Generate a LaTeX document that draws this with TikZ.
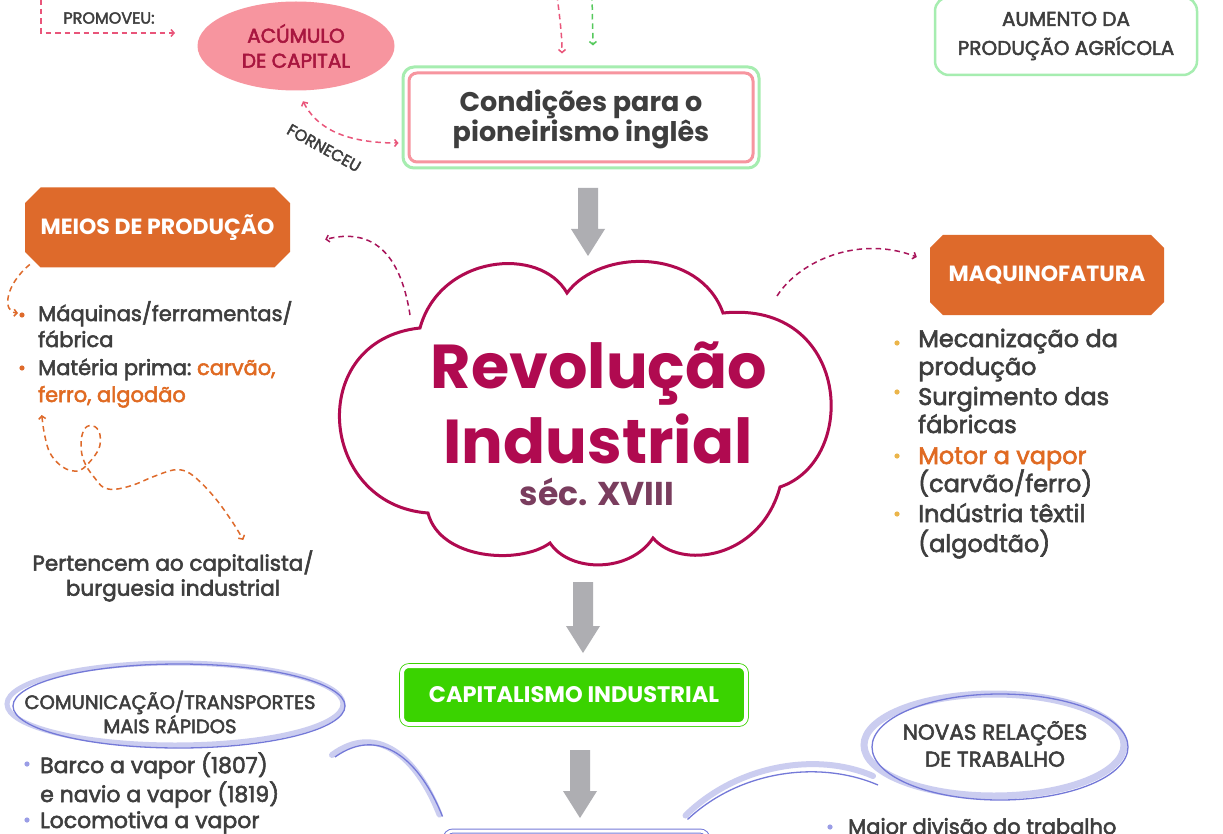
\documentclass[tikz,border=0pt]{standalone}
\usepackage{fontspec}
\setmainfont{Poppins}[UprightFeatures={FakeBold=2.5}]
\usetikzlibrary{arrows.meta,shapes.misc,shapes.geometric,fit,calc}
\definecolor{txt}{HTML}{3E3E3E}
\definecolor{mag}{HTML}{B00A50}
\definecolor{secc}{HTML}{7A3D5E}
\definecolor{orng}{HTML}{DE6A2B}
\definecolor{orngtxt}{HTML}{E06A22}
\definecolor{ylw}{HTML}{EBB54A}
\definecolor{pinkfill}{HTML}{F7959F}
\definecolor{pinktxt}{HTML}{A8163F}
\definecolor{pinkd}{HTML}{E9557A}
\definecolor{lgreen}{HTML}{A6EDB0}
\definecolor{dgreen}{HTML}{55C95C}
\definecolor{capg}{HTML}{3AD300}
\definecolor{blu}{HTML}{7479D8}
\definecolor{blush}{HTML}{CBCDF0}
\definecolor{bdot}{HTML}{9A9DE6}
\definecolor{agray}{HTML}{AEAEB2}
\definecolor{magd}{HTML}{A8145A}
\newcommand{\fsz}[2]{\fontsize{#1pt}{#2pt}\selectfont}
\newcommand{\grayarrow}[2]{\fill[agray] ($(#1)+(-10,0)$) -- ($(#2)+(-10,-27)$) -- ($(#2)+(-17,-27)$) -- (#2) -- ($(#2)+(17,-27)$) -- ($(#2)+(10,-27)$) -- ($(#1)+(10,0)$) -- cycle;}
\begin{document}
\begin{tikzpicture}[x=1pt,y=-1pt,
  every node/.style={text=txt, inner sep=0pt},
  dashbase/.style={dashed, dash pattern=on 5.5pt off 4pt, line width=1.5pt},
  tipend/.style={-{Straight Barb[length=3pt,width=7pt]}},
  tipboth/.style={{Straight Barb[length=3pt,width=7pt]}-{Straight Barb[length=3pt,width=7pt]}},
  chambox/.style={chamfered rectangle, chamfered rectangle xsep=12pt, fill=orng, text=white, minimum height=80pt, font=\fsz{22}{26}\bfseries},
  bubble/.style={ellipse, draw=blu, line width=1.3pt},
  bubtext/.style={align=center},
  bubshadow/.style={draw=blush, line width=5pt},
  curvline/.style={draw=blu, line width=1.3pt},
  curvshadow/.style={draw=blush, line width=6pt, line cap=round},
  btxt/.style={anchor=base west},
  ]
\useasboundingbox (0,0) rectangle (1223,834);
\clip (0,0) rectangle (1223,834);
\fill[white] (0,0) rectangle (1223,834);

% ---------- top left ----------
\node[font=\fsz{16}{18}] (promo) at (109,18) {PROMOVEU:};
\coordinate (pstart) at (41,-10);
\coordinate (pend) at (175,33);
\draw[dashbase, tipend, pinkd] (pstart) |- (pend);

\node[ellipse, fill=pinkfill, minimum width=197pt, minimum height=89pt, align=center,
      text=pinktxt, font=\fsz{20}{25}] (acum) at (296,46) {ACÚMULO\\DE CAPITAL};

% ---------- condicoes ----------
\node[draw=pinkfill, line width=3pt, rounded corners=8pt, minimum width=344pt, minimum height=89pt,
      align=center, font=\fsz{27}{30}\bfseries, text depth=3pt] (cond) at (581,117.5) {Condições para o\\pioneirismo inglês};
\node[fit=(cond), inner sep=4.5pt, draw=lgreen, line width=3pt, rounded corners=11pt] (condo) {};

\draw[dashbase, tipboth, pinkd] ([shift={(7pt,-10.5pt)}]acum.south) .. controls (315,125) and (340,143) .. ([xshift=-9pt,yshift=-25.5pt]cond.west);
\node[rotate=-29, font=\fsz{16}{18}] (forn) at (324,148) {FORNECEU};

\coordinate (tp1) at (557,-5);
\coordinate (tp2) at (592,-5);
\draw[dashbase, tipend, pinkd] (tp1) .. controls (560,20) and (562,35) .. ([xshift=-19pt,yshift=18pt]cond.north);
\draw[dashbase, tipend, dgreen] (tp2) -- ([xshift=12pt,yshift=26pt]cond.north);

% ---------- aumento ----------
\node[draw=lgreen, line width=2.5pt, rounded corners=14pt, minimum width=262pt, minimum height=78pt,
      align=center, font=\fsz{20}{29}] (aum) at (1066,36) {AUMENTO DA\\PRODUÇÃO AGRÍCOLA};

% ---------- gray arrows ----------
\coordinate (a1s) at (588,188);
\coordinate (a1e) at (588,256);
\coordinate (a2s) at (583,582);
\coordinate (a2e) at (583,653);
\coordinate (a3s) at (580,750);
\coordinate (a3e) at (580,818);
\grayarrow{a1s}{a1e}
\grayarrow{a2s}{a2e}
\grayarrow{a3s}{a3e}

% ---------- meios de producao ----------
\node[chambox, minimum width=265pt] (meios) at (157.5,227.5) {MEIOS DE PRODUÇÃO};
\coordinate (mb) at (18,313);
\draw[dashbase, tipend, orng] ([shift={(5pt,-37pt)}]meios.west) .. controls (5,285) and (2,312) .. (mb);
\fill[orng] (22,315) circle (2.6);
\fill[orng] (22,368) circle (2.6);
\node[btxt, font=\fsz{21}{25}] (l1) at (38,321) {Máquinas/ferramentas/};
\node[btxt, font=\fsz{21}{25}] (l2) at (38,347) {fábrica};
\node[btxt, font=\fsz{21}{25}] (l3) at (38,375) {Matéria prima:\ \textcolor{orngtxt}{carvão,}};
\node[btxt, font=\fsz{21}{25}, text=orngtxt] (l4) at (38,402) {ferro, algodão};

\draw[dashbase, tipboth, orng] plot[smooth, tension=0.6] coordinates {(41.7,415) (45,436.7) (50,453) (60,465) (71.7,470.7) (83.3,468.3) (98.3,450) (100,435) (95,426.7) (86.7,426.7) (81.7,436.7) (81.7,453.3) (86.7,466.7) (95,478.3) (103.3,487.3) (115,489.3) (133.3,485) (153.3,476.7) (173.3,470) (186.7,471.7) (200,481.7) (216.7,500) (233.3,523.3) (243.3,540)};

\node[align=center, font=\fsz{21.5}{25}] (pert) at (173,576) {Pertencem ao capitalista/\\burguesia industrial};

% ---------- maquinofatura ----------
\node[chambox, minimum width=234pt] (maq) at (1047,275) {MAQUINOFATURA};
\foreach \yy in {343,392,456,514} \fill[ylw] (897,\yy) circle (2.6);
\node[btxt, font=\fsz{24}{29}] (r1) at (918,347) {Mecanização da};
\node[btxt, font=\fsz{24}{29}] (r2) at (918,375) {produção};
\node[btxt, font=\fsz{24}{29}] (r3) at (918,405) {Surgimento das};
\node[btxt, font=\fsz{24}{29}] (r4) at (918,433) {fábricas};
\node[btxt, font=\fsz{24}{29}, text=orngtxt] (r5) at (918,464) {Motor a vapor};
\node[btxt, font=\fsz{24}{29}] (r6) at (918,492) {(carvão/ferro)};
\node[btxt, font=\fsz{24}{29}] (r7) at (918,522) {Indústria têxtil};
\node[btxt, font=\fsz{24}{29}] (r8) at (918,552) {(algodtão)};

% ---------- cloud ----------
\draw[mag, line width=3pt, fill=white]
  (428,513) .. controls (318,505) and (305,340) .. (420,328)
  .. controls (440,255) and (540,245) .. (567,293)
  .. controls (600,248) and (700,248) .. (723,313)
  .. controls (850,300) and (860,460) .. (780,487)
  .. controls (760,560) and (680,570) .. (653,538)
  .. controls (630,573) and (570,573) .. (550,543)
  .. controls (520,565) and (440,560) .. (428,513) -- cycle;
\node[anchor=base, text=mag, font=\fsz{62}{70}\bfseries] (rev) at (599,388) {Revolução};
\node[anchor=base, text=mag, font=\fsz{62}{70}\bfseries] (ind) at (598,463) {Industrial};
\node[anchor=base, text=secc, font=\fsz{33}{36}\bfseries] (sec) at (597,505) {séc. XVIII};

\coordinate (cl1) at (410,315);
\coordinate (cl2) at (777,296);
\draw[dashbase, tipend, magd] (cl1) .. controls (400,250) and (370,228) .. ([xshift=35pt,yshift=-12pt]meios.east);
\draw[dashbase, tipend, magd] (cl2) .. controls (800,260) and (860,235) .. ([xshift=-13pt,yshift=18pt]maq.west);

% ---------- capitalismo ----------
\node[fill=capg, draw=capg, double=white, double distance=4pt, line width=0.8pt, rounded corners=7pt,
      minimum width=344pt, minimum height=58pt, text=white, font=\fsz{22.5}{26}\bfseries] (capi) at (574,695) {CAPITALISMO INDUSTRIAL};

% ---------- bottom box ----------
\node[draw=blu, double=white, double distance=3pt, line width=1pt, rounded corners=8pt,
      minimum width=263pt, minimum height=60pt] (bot) at (576.5,861) {};

% ---------- comunicacao ----------
\draw[bubshadow] (175,704) ellipse (168 and 41);
\node[bubble, minimum width=332pt, minimum height=84pt] (comu) at (179,706) {};
\node[bubtext, font=\fsz{19.5}{23}] (comut) at (170,712) {COMUNICAÇÃO/TRANSPORTES\\MAIS RÁPIDOS};
\fill[bdot] (27,764) circle (2.6);
\fill[bdot] (27,820) circle (2.6);
\node[btxt, font=\fsz{22}{27}] (b1) at (40,773) {Barco a vapor (1807)};
\node[btxt, font=\fsz{22}{27}] (b2) at (40,802) {e navio a vapor (1819)};
\node[btxt, font=\fsz{22}{27}] (b3) at (40,828) {Locomotiva a vapor};

% ---------- novas relacoes ----------
\draw[bubshadow, line width=7pt] (994,745) ellipse (130 and 51);
\node[bubble, minimum width=256pt, minimum height=106pt] (nova) at (1000,747) {};
\node[bubtext, font=\fsz{21.5}{27}] (novat) at (995,744) {NOVAS RELAÇÕES\\DE TRABALHO};
\fill[bdot] (830,827) circle (2.6);
\node[btxt, font=\fsz{21}{25}] (n1) at (848,834) {Maior divisão do trabalho};

% ---------- curved connectors ----------
\coordinate (lc1) at (335,757);
\coordinate (rc2) at (878,785);
\draw[curvshadow] ([shift={(-3pt,2pt)}]lc1) .. controls (377,722) and (417,757) .. ([shift={(-5pt,16pt)}]bot.north west);
\draw[curvline] (lc1) .. controls (380,725) and (420,760) .. ([shift={(-2pt,14pt)}]bot.north west);
\draw[curvshadow] ([shift={(-23pt,15pt)}]bot.north east) .. controls (738,764) and (818,752) .. ([shift={(-5pt,9pt)}]rc2);
\draw[curvline] ([shift={(-21pt,11pt)}]bot.north east) .. controls (740,770) and (820,760) .. (rc2);
\end{tikzpicture}
\end{document}
